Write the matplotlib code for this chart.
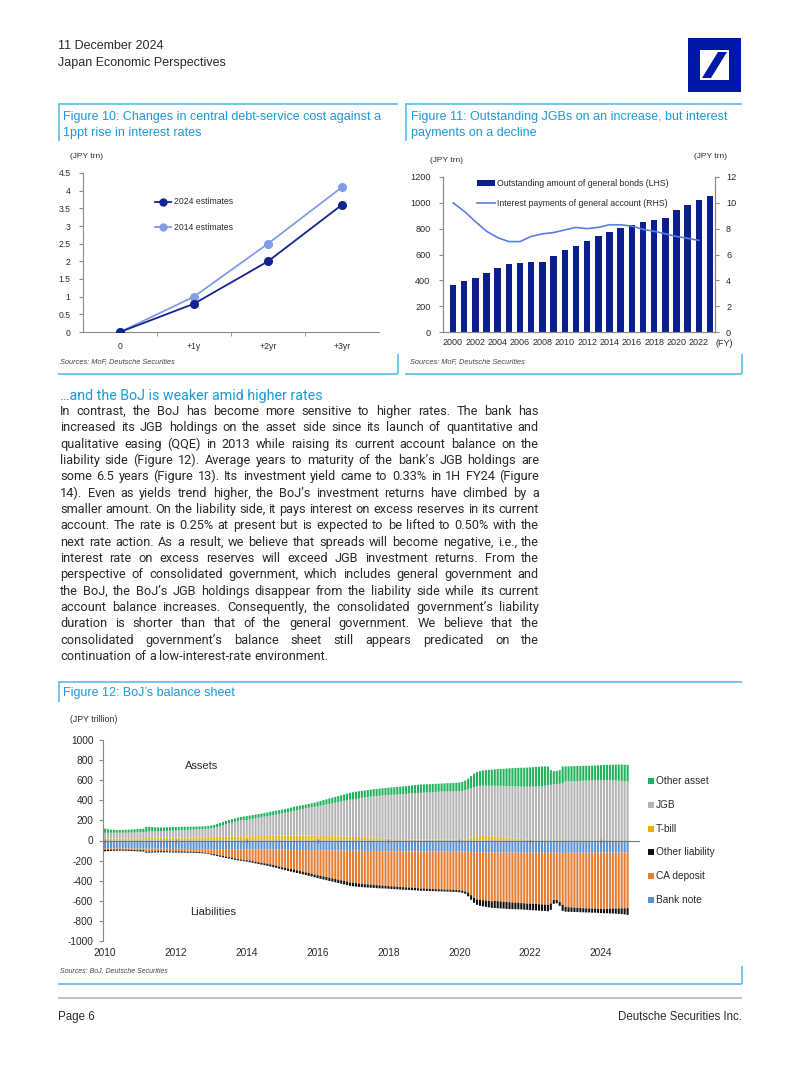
import numpy as np
import matplotlib
matplotlib.use('Agg')
import matplotlib.pyplot as plt
from matplotlib.patches import Rectangle, Polygon

plt.rcParams['font.family'] = ['Liberation Sans', 'DejaVu Sans']
plt.rcParams['axes.unicode_minus'] = False
NARROW = ['Liberation Sans Narrow', 'Liberation Sans', 'DejaVu Sans']
BODY = ['Roboto', 'Liberation Sans', 'DejaVu Sans']

W, H = 802, 1068
CYAN = '#1a9ad6'
BOX = '#5cbbe8'
TXT = '#2a2a2a'
SPINE = '#8a8a8a'

# ---------------- Figure 10 data ----------------
f10_cats = ['0', '+1y', '+2yr', '+3yr']
f10_2024 = [0, 0.8, 2.0, 3.6]
f10_2014 = [0, 1.0, 2.5, 4.1]

# ---------------- Figure 11 data ----------------
f11_years = list(range(2000, 2024))
f11_bonds = [366, 392, 418, 457, 495, 526, 532, 539, 542, 591, 635, 668,
             702, 741, 772, 803, 828, 849, 870, 883, 942, 986, 1025, 1050]
f11_int_years = list(range(2000, 2023))
f11_interest = [10.0, 9.35, 8.55, 7.8, 7.3, 7.0, 7.0, 7.4, 7.6, 7.7, 7.9, 8.1,
                8.0, 8.1, 8.3, 8.3, 8.2, 7.95, 7.8, 7.6, 7.4, 7.25, 7.1]

# ---------------- Figure 12 data (monthly, Jan 2010 - Oct 2024, JPY trn) ----------------
asset_total = [
    118, 112, 108, 106, 105, 105, 106, 107, 108, 110, 112, 114,
    116, 118, 136, 136, 134, 132, 130, 130, 130, 131, 132, 134,
    134, 135, 136, 137, 137, 138, 138, 139, 140, 141, 142, 145,
    150, 155, 165, 175, 185, 195, 205, 212, 220, 228, 234, 240,
    243, 248, 253, 258, 263, 268, 274, 280, 286, 292, 297, 302,
    308, 314, 320, 327, 334, 340, 346, 352, 358, 364, 370, 378,
    385, 393, 402, 410, 418, 426, 434, 442, 450, 458, 466, 474,
    480, 486, 490, 494, 498, 502, 506, 510, 513, 516, 519, 522,
    526, 528, 530, 533, 536, 539, 542, 545, 548, 551, 554, 557,
    558, 560, 561, 562, 564, 565, 567, 568, 570, 571, 572, 574,
    578, 582, 596, 615, 640, 665, 680, 690, 697, 700, 703, 705,
    708, 710, 712, 714, 716, 718, 720, 722, 723, 724, 724, 725,
    728, 730, 732, 734, 736, 738, 736, 700, 690, 692, 700, 735,
    738, 738, 740, 740, 742, 742, 743, 744, 744, 745, 746, 748,
    750, 752, 752, 754, 755, 756, 756, 755, 754, 752]
tbill = [
    22, 22, 21, 21, 20, 20, 20, 20, 20, 21, 21, 22,
    22, 22, 24, 25, 26, 27, 28, 28, 28, 28, 28, 28,
    28, 28, 28, 29, 29, 30, 30, 31, 32, 32, 33, 33,
    34, 35, 36, 37, 38, 39, 40, 40, 41, 41, 42, 42,
    42, 43, 43, 44, 44, 45, 45, 46, 46, 47, 47, 48,
    48, 48, 49, 49, 50, 50, 50, 50, 50, 49, 49, 48,
    48, 47, 46, 45, 44, 43, 42, 41, 40, 40, 39, 38,
    37, 36, 35, 34, 33, 32, 30, 28, 26, 24, 22, 20,
    18, 17, 16, 15, 14, 13, 12, 12, 11, 11, 10, 10,
    10, 10, 9, 9, 9, 9, 9, 8, 8, 8, 8, 8,
    8, 9, 12, 20, 30, 38, 44, 46, 46, 45, 44, 42,
    40, 38, 36, 33, 30, 27, 24, 21, 18, 15, 12, 10,
    8, 7, 6, 6, 5, 5, 5, 4, 4, 4, 3, 3,
    3, 3, 3, 3, 3, 3, 3, 3, 3, 3, 3, 3,
    3, 3, 3, 3, 3, 3, 3, 3, 3, 3]
jgb = [
    55, 55, 56, 56, 57, 57, 57, 58, 58, 58, 59, 60,
    60, 61, 62, 63, 64, 65, 66, 67, 68, 69, 70, 71,
    72, 73, 74, 75, 76, 77, 78, 79, 80, 81, 82, 84,
    88, 92, 98, 106, 114, 122, 130, 138, 146, 152, 158, 162,
    162, 167, 172, 177, 182, 187, 192, 197, 202, 207, 212, 217,
    222, 228, 234, 240, 246, 252, 258, 264, 270, 276, 282, 288,
    292, 299, 306, 313, 320, 327, 334, 341, 348, 355, 362, 368,
    373, 379, 385, 391, 396, 401, 406, 411, 416, 421, 426, 430,
    434, 437, 440, 443, 446, 449, 452, 455, 458, 460, 462, 464,
    466, 468, 470, 472, 474, 476, 478, 479, 480, 481, 482, 483,
    485, 486, 488, 490, 492, 494, 496, 498, 500, 501, 502, 503,
    504, 506, 508, 510, 512, 514, 516, 518, 520, 522, 524, 526,
    528, 530, 532, 534, 536, 540, 545, 550, 555, 558, 562, 566,
    585, 590, 585, 586, 588, 590, 592, 594, 594, 595, 596, 597,
    596, 598, 598, 597, 596, 594, 592, 590, 588, 585]
liab_total = [
    108, 106, 104, 103, 102, 101, 102, 103, 104, 105, 106, 108,
    109, 110, 122, 121, 120, 119, 118, 118, 118, 118, 119, 120,
    120, 120, 121, 121, 122, 122, 123, 124, 126, 128, 130, 135,
    142, 148, 155, 162, 168, 174, 180, 186, 192, 197, 202, 206,
    210, 216, 222, 228, 234, 240, 246, 252, 258, 265, 272, 280,
    288, 295, 302, 309, 316, 323, 330, 337, 344, 351, 358, 366,
    374, 381, 388, 395, 402, 409, 416, 423, 430, 437, 444, 451,
    455, 458, 461, 464, 466, 468, 470, 472, 474, 476, 477, 478,
    480, 482, 484, 486, 488, 490, 491, 492, 494, 496, 498, 500,
    500, 502, 503, 504, 505, 506, 507, 508, 509, 510, 511, 512,
    515, 520, 530, 555, 590, 620, 640, 650, 655, 660, 665, 670,
    672, 674, 676, 678, 680, 682, 683, 684, 685, 686, 688, 690,
    692, 694, 696, 698, 700, 702, 704, 690, 630, 625, 650, 700,
    708, 710, 710, 712, 712, 714, 714, 716, 716, 718, 718, 720,
    722, 724, 724, 726, 726, 728, 730, 732, 735, 740]
bank_note = [
    77, 77, 78, 78, 78, 78, 79, 79, 79, 79, 80, 81,
    80, 80, 82, 82, 82, 82, 82, 82, 82, 83, 83, 84,
    83, 83, 83, 83, 84, 84, 84, 84, 84, 85, 85, 87,
    86, 86, 86, 86, 86, 87, 87, 87, 87, 88, 88, 90,
    88, 88, 88, 89, 89, 89, 89, 89, 90, 90, 91, 93,
    92, 92, 92, 93, 93, 93, 94, 94, 95, 95, 96, 98,
    97, 97, 98, 98, 98, 99, 99, 100, 100, 100, 101, 103,
    102, 102, 102, 103, 103, 103, 104, 104, 104, 105, 105, 107,
    106, 106, 106, 107, 107, 107, 108, 108, 108, 108, 109, 111,
    110, 110, 110, 110, 110, 110, 110, 110, 111, 111, 111, 112,
    111, 111, 112, 113, 114, 115, 116, 116, 117, 117, 118, 120,
    119, 119, 119, 120, 120, 120, 120, 120, 121, 121, 121, 123,
    122, 122, 122, 122, 122, 122, 122, 122, 122, 122, 122, 124,
    122, 122, 122, 122, 122, 122, 122, 122, 122, 122, 121, 123,
    121, 121, 121, 121, 121, 121, 120, 120, 120, 120]
ca_deposit = [
    15, 13, 12, 11, 10, 10, 10, 11, 12, 13, 14, 15,
    15, 16, 28, 27, 26, 25, 24, 24, 24, 24, 25, 25,
    25, 25, 26, 26, 27, 27, 28, 29, 31, 33, 35, 40,
    45, 50, 56, 62, 68, 74, 80, 86, 92, 97, 101, 105,
    108, 113, 118, 123, 128, 133, 138, 143, 148, 154, 160, 167,
    174, 180, 186, 192, 198, 204, 210, 216, 222, 228, 234, 241,
    248, 254, 260, 266, 272, 278, 284, 290, 296, 302, 308, 314,
    318, 322, 326, 330, 332, 334, 336, 338, 340, 342, 344, 346,
    348, 350, 352, 354, 356, 358, 359, 360, 362, 364, 366, 368,
    368, 370, 372, 373, 374, 375, 376, 377, 378, 379, 380, 381,
    384, 388, 395, 405, 430, 455, 470, 475, 478, 480, 482, 485,
    483, 485, 488, 490, 492, 494, 496, 498, 500, 502, 504, 506,
    506, 508, 510, 512, 514, 516, 518, 505, 470, 470, 490, 515,
    540, 542, 544, 546, 548, 550, 552, 554, 554, 556, 556, 558,
    560, 562, 560, 558, 556, 556, 556, 556, 555, 553]

f12_labels = ['Other asset', 'JGB', 'T-bill', 'Other liability', 'CA deposit', 'Bank note']
f12_colors = ['#1fb25a', '#b4b4b4', '#e6b400', '#111111', '#e57d32', '#5b91d1']

body_lines = [
    "In contrast, the BoJ has become more sensitive to higher rates. The bank has",
    "increased its JGB holdings on the asset side since its launch of quantitative and",
    "qualitative easing (QQE) in 2013 while raising its current account balance on the",
    "liability side (Figure 12). Average years to maturity of the bank\u2019s JGB holdings are",
    "some 6.5 years (Figure 13). Its investment yield came to 0.33% in 1H FY24 (Figure",
    "14). Even as yields trend higher, the BoJ\u2019s investment returns have climbed by a",
    "smaller amount. On the liability side, it pays interest on excess reserves in its current",
    "account. The rate is 0.25% at present but is expected to be lifted to 0.50% with the",
    "next rate action. As a result, we believe that spreads will become negative, i.e., the",
    "interest rate on excess reserves will exceed JGB investment returns. From the",
    "perspective of consolidated government, which includes general government and",
    "the BoJ, the BoJ\u2019s JGB holdings disappear from the liability side while its current",
    "account balance increases. Consequently, the consolidated government\u2019s liability",
    "duration is shorter than that of the general government. We believe that the",
    "consolidated government\u2019s balance sheet still appears predicated on the",
    "continuation of a low-interest-rate environment.",
]


def ax_px(left, top, right, bottom):
    return [left / W, 1 - bottom / H, (right - left) / W, (bottom - top) / H]


fig = plt.figure(figsize=(W / 100, H / 100), dpi=100)
fig.patch.set_facecolor('white')

# overlay in pixel coordinates
ov = fig.add_axes([0, 0, 1, 1])
ov.set_xlim(0, W)
ov.set_ylim(H, 0)
ov.axis('off')


def hline(x0, x1, y, color=BOX, lw=1.2):
    ov.plot([x0, x1], [y, y], color=color, lw=lw, solid_capstyle='butt')


def vline(x, y0, y1, color=BOX, lw=1.2):
    ov.plot([x, x], [y0, y1], color=color, lw=lw, solid_capstyle='butt')


# header
ov.text(58, 46, "11 December 2024", fontsize=9, color=TXT, va='center')
ov.text(58, 63, "Japan Economic Perspectives", fontsize=9, color=TXT, va='center')

# logo
DB = '#0018a8'
ov.add_patch(Rectangle((688, 38), 53, 54, color=DB, lw=0))
ov.add_patch(Rectangle((700, 50), 29, 30, color='white', lw=0))
ov.add_patch(Polygon([(702, 78), (711, 78), (727, 52), (718, 52)], closed=True, color=DB, lw=0))

# boxes
hline(58, 398, 104); vline(59, 104, 141); hline(58, 398, 374); vline(398, 354, 374)
hline(405, 742, 104); vline(406, 104, 141); hline(405, 742, 374); vline(742, 354, 374)
hline(58, 742, 682); vline(59, 682, 702); hline(58, 742, 984); vline(742, 966, 984)
hline(58, 742, 998, color='#c4c4c4', lw=1.5)

# titles
tsize = 9.0
ov.text(63, 117, "Figure 10: Changes in central debt-service cost against a", fontsize=tsize, color=CYAN, va='center')
ov.text(63, 133, "1ppt rise in interest rates", fontsize=tsize, color=CYAN, va='center')
ov.text(411, 117, "Figure 11: Outstanding JGBs on an increase, but interest", fontsize=tsize, color=CYAN, va='center')
ov.text(411, 133, "payments on a decline", fontsize=tsize, color=CYAN, va='center')
ov.text(63, 693, "Figure 12: BoJ\u2019s balance sheet", fontsize=tsize, color=CYAN, va='center')
ov.text(60, 400, "\u2026and the BoJ is weaker amid higher rates", fontsize=10.3, color=CYAN, va='baseline', family=BODY)

# sources and footer
ov.text(60, 362, "Sources: MoF, Deutsche Securities", fontsize=5.3, style='italic', color='#444444', va='center')
ov.text(410, 362, "Sources: MoF, Deutsche Securities", fontsize=5.3, style='italic', color='#444444', va='center')
ov.text(60, 971, "Sources: BoJ, Deutsche Securities", fontsize=5, style='italic', color='#444444', va='center', family=NARROW)
ov.text(58, 1017, "Page 6", fontsize=8.3, color=TXT, va='center', family=NARROW)
ov.text(742, 1017, "Deutsche Securities Inc.", fontsize=8.3, color=TXT, va='center', ha='right', family=NARROW)

# ---------------- body text, justified ----------------
renderer = fig.canvas.get_renderer()
x0, x1 = 60, 539
probe = []
for line in body_lines:
    t = ov.text(0, 0, line, fontsize=10, family=BODY)
    probe.append(t.get_window_extent(renderer).width)
    t.remove()
bsize = 10 * (x1 - x0 - 1) / max(probe)
sp = ov.text(0, 0, "a a", fontsize=bsize, family=BODY)
sp_w = sp.get_window_extent(renderer).width
sp.set_text("aa")
sp_w -= sp.get_window_extent(renderer).width
sp.remove()
for i, line in enumerate(body_lines):
    y = 415 + i * 16.33
    words = line.split(' ')
    ts = [ov.text(0, y, w, fontsize=bsize, color=TXT, va='baseline', family=BODY) for w in words]
    ws = [t.get_window_extent(renderer).width for t in ts]
    if i == len(body_lines) - 1:
        gap = sp_w
    else:
        gap = (x1 - x0 - sum(ws)) / (len(words) - 1)
    x = x0
    for t, w in zip(ts, ws):
        t.set_x(x)
        x += w + gap

# ---------------- Figure 10 ----------------
ax1 = fig.add_axes(ax_px(83, 173, 379, 332))
ax1.set_facecolor('none')
xc = np.arange(len(f10_cats))
c24, c14 = '#14248f', '#809ce3'
ax1.plot(xc, f10_2014, color=c14, lw=1.3, marker='o', ms=5.5, zorder=3)
ax1.plot(xc, f10_2024, color=c24, lw=1.3, marker='o', ms=5.5, zorder=4)
ax1.set_xlim(-0.5, 3.5)
ax1.set_ylim(0, 4.5)
ax1.set_yticks(np.arange(0, 4.51, 0.5))
ax1.set_yticklabels(['0', '0.5', '1', '1.5', '2', '2.5', '3', '3.5', '4', '4.5'])
ax1.set_xticks(xc)
ax1.set_xticklabels(f10_cats)
ax1.set_xticks([0.5, 1.5, 2.5], minor=True)
ax1.tick_params(axis='x', which='major', length=0, pad=7, labelsize=6.2, labelcolor=TXT)
ax1.tick_params(axis='x', which='minor', length=3, color=SPINE, direction='out')
ax1.tick_params(axis='y', length=3, color=SPINE, labelsize=6.2, labelcolor=TXT, pad=6)
for s in ['top', 'right']:
    ax1.spines[s].set_visible(False)
for s in ['left', 'bottom']:
    ax1.spines[s].set_color(SPINE)
    ax1.spines[s].set_linewidth(0.8)
ov.text(70, 157, "(JPY trn)", fontsize=6, color=TXT, va='center')
ov.plot([155, 171], [202, 202], color=c24, lw=1.3)
ov.plot([163], [202], 'o', color=c24, ms=5)
ov.text(174, 202, "2024 estimates", fontsize=6.2, color=TXT, va='center')
ov.plot([155, 171], [227, 227], color=c14, lw=1.3)
ov.plot([163], [227], 'o', color=c14, ms=5)
ov.text(174, 227, "2014 estimates", fontsize=6.2, color=TXT, va='center')

# ---------------- Figure 11 ----------------
ax2 = fig.add_axes(ax_px(443, 177, 715, 332))
ax2.set_facecolor('none')
navy = '#0b1f8f'
ax2.bar(f11_years, f11_bonds, width=0.58, color=navy, zorder=2)
ax2.set_xlim(1999.1, 2023.45)
ax2.set_ylim(0, 1200)
ax2.set_yticks(range(0, 1201, 200))
ax2.set_xticks(range(2000, 2023, 2))
ax2.tick_params(axis='x', length=0, pad=4, labelsize=6.5, labelcolor=TXT)
for lab in ax2.get_xticklabels():
    lab.set_family(NARROW)
ax2.tick_params(axis='y', length=3, color=SPINE, labelsize=6.6, labelcolor=TXT, pad=6)
ax2r = ax2.twinx()
ax2r.plot(f11_int_years, f11_interest, color='#5b7fe0', lw=1.2, zorder=3)
ax2r.set_ylim(0, 12)
ax2r.set_yticks(range(0, 13, 2))
ax2r.tick_params(axis='y', length=3, color=SPINE, labelsize=6.6, labelcolor=TXT, pad=5)
for a in (ax2, ax2r):
    a.spines['top'].set_visible(False)
    for s in ['left', 'bottom', 'right']:
        a.spines[s].set_color(SPINE)
        a.spines[s].set_linewidth(0.8)
ov.text(430, 161, "(JPY trn)", fontsize=6, color=TXT, va='center')
ov.text(727, 157, "(JPY trn)", fontsize=6, color=TXT, va='center', ha='right')
ov.text(716, 343, "(FY)", fontsize=6.5, color=TXT, va='center', family=NARROW)
ov.add_patch(Rectangle((477, 180), 18, 5.5, color=navy, lw=0))
ov.text(497, 183, "Outstanding amount of general bonds (LHS)", fontsize=6.3, color=TXT, va='center')
ov.plot([477, 495], [203, 203], color='#5b7fe0', lw=1.2)
ov.text(497, 203, "Interest payments of general account (RHS)", fontsize=6.3, color=TXT, va='center')

# ---------------- Figure 12 ----------------
ax3 = fig.add_axes(ax_px(103, 740, 640, 941))
ax3.set_facecolor('none')
n = len(asset_total)
xm = 2010 + np.arange(n) / 12
at = np.array(asset_total)
tb = np.array(tbill)
jg = np.array(jgb)
oa = at - tb - jg
lt = np.array(liab_total)
bn = np.array(bank_note)
ca = np.array(ca_deposit)
ol = lt - bn - ca
bw = 0.7 / 12
stacks = [(tb, 0, 2), (jg, tb, 1), (oa, tb + jg, 0),
          (-bn, 0, 5), (-ca, -bn, 4), (-ol, -bn - ca, 3)]
for vals, base, ci in stacks:
    bars = ax3.bar(xm, vals, bw, bottom=base, color=f12_colors[ci], lw=0)
    for b in bars:
        b.set_snap(False)
ax3.axhline(0, color='#777777', lw=0.8, zorder=3)
yrs = np.arange(2010, 2025, 2)
ax3.plot(yrs, np.zeros(len(yrs)), '|', color='#777777', ms=3, mew=0.8, zorder=3)
ax3.set_xlim(2009.944, 2025.1)
ax3.set_ylim(-1000, 1000)
ax3.set_yticks(range(-1000, 1001, 200))
ax3.set_xticks(yrs)
ax3.tick_params(axis='x', length=0, pad=5, labelsize=7.3, labelcolor=TXT)
ax3.tick_params(axis='y', length=3, color=SPINE, labelsize=7.3, labelcolor=TXT, pad=4)
for lab in ax3.get_xticklabels() + ax3.get_yticklabels():
    lab.set_family(NARROW)
for s in ['top', 'right', 'bottom']:
    ax3.spines[s].set_visible(False)
ax3.spines['left'].set_color(SPINE)
ax3.spines['left'].set_linewidth(0.8)
ov.text(70, 720, "(JPY trillion)", fontsize=6.3, color=TXT, va='center', family=NARROW)
ov.text(185, 766, "Assets", fontsize=8, color=TXT, va='center', family=NARROW)
ov.text(190, 912, "Liabilities", fontsize=8, color=TXT, va='center', family=NARROW)
for k, (lab, col) in enumerate(zip(f12_labels, f12_colors)):
    y = 781 + k * 23.8
    ov.add_patch(Rectangle((648, y - 3), 6, 6, color=col, lw=0))
    ov.text(656, y, lab, fontsize=7.3, color=TXT, va='center', family=NARROW)

fig.savefig('out.png', dpi=100)
